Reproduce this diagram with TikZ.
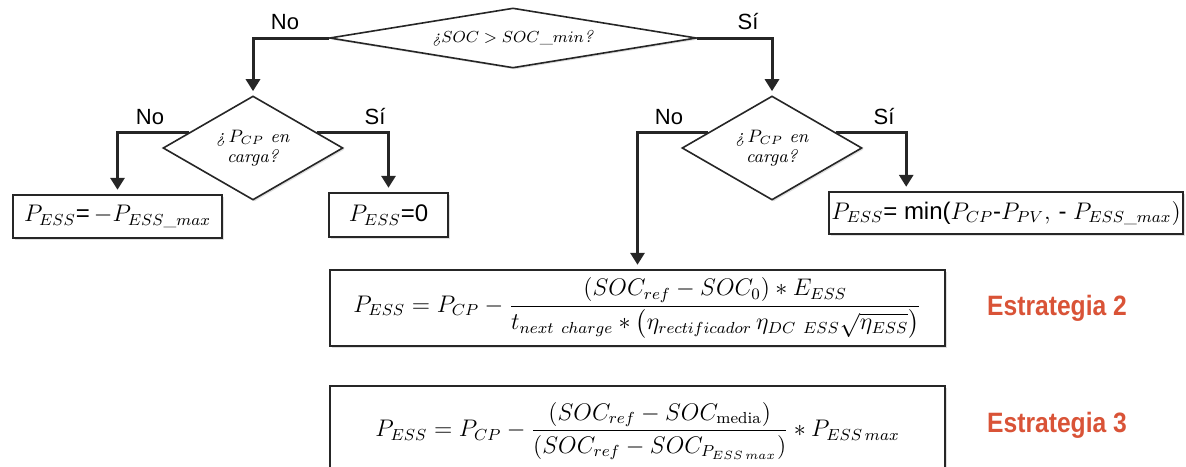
\documentclass[tikz,border=0pt]{standalone}
\usepackage{amsmath}
\usepackage{fontspec}
\newfontfamily\arialfont{Liberation Sans}
\usetikzlibrary{shapes.geometric,arrows.meta,calc,shadows}
\definecolor{estrat}{RGB}{217,83,55}
\definecolor{lineclr}{RGB}{38,38,38}

\begin{document}
\begin{tikzpicture}[x=0.5pt,y=-0.5pt,
    softshadow/.style={drop shadow={shadow xshift=0.8pt,shadow yshift=-0.8pt,opacity=0.25}},
    decision/.style={diamond,draw=lineclr,line width=0.8pt,fill=white,inner sep=0pt,
      align=center,softshadow,font=\fontsize{9}{10}\selectfont},
    result/.style={rectangle,draw=lineclr,line width=1.2pt,fill=white,inner sep=0pt,
      softshadow,font=\fontsize{12}{13}\selectfont},
    branchlbl/.style={font=\arialfont\fontsize{11}{11}\selectfont,inner sep=0pt},
    flow/.style={draw=lineclr,line width=1.5pt,-{Triangle[width=7pt,length=6pt]},shorten >=2pt},
    strategy/.style={font=\arialfont\bfseries\fontsize{14}{14}\selectfont,text=estrat,xscale=0.88}]
  \path[use as bounding box,clip] (0,0) rectangle (1186,466);

  % decisions
  \node[decision,aspect=6.1,minimum width=183.5pt,minimum height=30pt,
    font=\fontsize{8.5}{10}\selectfont] (soc) at (513,38)
    {\textit{¿}$SOC > SOC\_min$\textit{?}};
  \node[decision,aspect=1.73,minimum width=90pt,minimum height=52pt] (cpl) at (253,148)
    {\textit{¿}\,$P_{CP}$ \textit{en}\\\textit{carga?}};
  \node[decision,aspect=1.73,minimum width=90pt,minimum height=52pt] (cpr) at (772,148)
    {\textit{¿}\,$P_{CP}$ \textit{en}\\\textit{carga?}};

  % results
  \node[result,minimum width=104.5pt,minimum height=21.5pt] (emax) at (117.5,216.5)
    {$P_{ESS}\text{\arialfont=}\,{-P_{ESS\_max}}$};
  \node[result,minimum width=59.5pt,minimum height=22pt] (ezero) at (388.5,215)
    {$P_{ESS}\text{\arialfont=0}$};
  \node[result,minimum width=177pt,minimum height=21pt] (emin) at (1006,213)
    {$P_{ESS}\text{\arialfont= min(}P_{CP}\text{\arialfont-}P_{PV}\text{, \arialfont- }P_{ESS\_max})$};
  \node[result,minimum width=307.5pt,minimum height=38pt] (est2) at (637.5,308)
    {$P_{ESS}=P_{CP}-\dfrac{\left(SOC_{ref}-SOC_0\right)*E_{ESS}}{t_{next\ charge}*\left(\eta_{rectificador}\,\eta_{DC\ ESS}\sqrt{\eta_{ESS}}\right)}$};
  \node[result,minimum width=307.5pt,minimum height=45pt] (est3) at (637.5,431)
    {$P_{ESS}=P_{CP}-\dfrac{\left(SOC_{ref}-SOC_{\mathrm{media}}\right)}{\left(SOC_{ref}-SOC_{P_{ESS\,max}}\right)}*P_{ESS\,max}$};

  \node[strategy] (lbl2) at (1057,308) {Estrategia 2};
  \node[strategy] (lbl3) at (1057,425) {Estrategia 3};

  % connectors
  \coordinate (eminin) at ($(emin.north west)!0.22!(emin.north east)$);
  \draw[flow] (soc.west) -| (cpl.north);
  \draw[flow] (soc.east) -| (cpr.north);
  \draw[flow] ($(cpl.west)!0.3!(cpl.north)$) -| (emax.north);
  \draw[flow] ($(cpl.east)!0.3!(cpl.north)$) -| (ezero.north);
  \draw[flow] ($(cpr.west)!0.3!(cpr.north)$) -| (est2.north);
  \draw[flow] ($(cpr.east)!0.3!(cpr.north)$) -| (eminin);

  % branch labels
  \node[branchlbl] (no0) at (285,22) {No};
  \node[branchlbl] (si0) at (748,22) {Sí};
  \node[branchlbl] (no1) at (150,117) {No};
  \node[branchlbl] (si1) at (375,117) {Sí};
  \node[branchlbl] (no2) at (669,117) {No};
  \node[branchlbl] (si2) at (884,117) {Sí};
\end{tikzpicture}
\end{document}
